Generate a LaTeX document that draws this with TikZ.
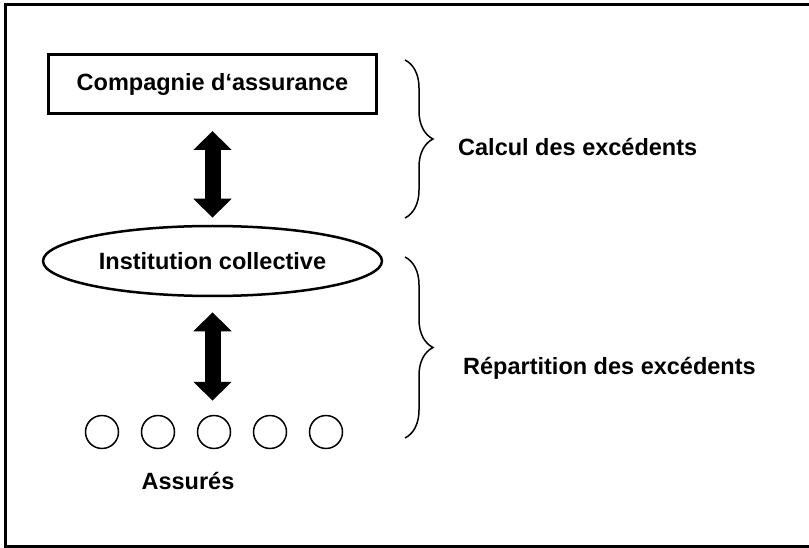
\documentclass[tikz,border=0pt]{standalone}
\usepackage{fontspec}
\setmainfont{Liberation Sans}
\usetikzlibrary{arrows.meta, positioning, shapes.geometric, decorations.pathreplacing}

\begin{document}
\begin{tikzpicture}[x=1pt, y=-1pt,
         every node/.style={font=\bfseries\fontsize{23.5}{28}\selectfont},
         box/.style={rectangle, draw, line width=3pt, minimum width=328pt, minimum height=59pt},
         oval/.style={ellipse, draw, line width=2.5pt, minimum width=339pt, minimum height=70pt},
         member/.style={circle, draw, line width=1.5pt, minimum size=33pt, inner sep=0pt},
         biarrow/.style={line width=16pt, {Triangle[length=19pt, width=37pt]}-{Triangle[length=19pt, width=37pt]}},
         accolade/.style={decorate, decoration={brace, amplitude=28pt}, line width=1.5pt},
         tag/.style={inner sep=0pt, anchor=base west}]

         \useasboundingbox (0,0) rectangle (809,548);
         \draw[line width=3pt] (809,4.5) -- (5,4.5) -- (5,546) -- (809,546);

         \node [box]  (compagnie)   at (212.5,84)   {Compagnie d‘assurance};
         \node [oval, text depth=0pt] (institution) at (212.5,261)  {Institution collective};
         \foreach \i in {1,...,5}
             \node [member] (assure\i) at (46+56*\i,432) {};
         \node [inner sep=0pt, anchor=base] (assures) at (188,489) {Assurés};

         \draw [biarrow, shorten <=16pt, shorten >=7pt] (compagnie) -- (institution);
         \draw [biarrow, shorten <=15pt, shorten >=14pt] (institution.south) -- (institution.south |- assure3.north);

         \coordinate (calcTop) at (405,60);
         \coordinate (calcBot) at (405,218);
         \coordinate (calcTip) at (433,147);
         \coordinate (repTop)  at (405,257);
         \coordinate (repBot)  at (405,438);
         \coordinate (repTip)  at (433,368);

         \draw [accolade] (calcTop) -- (calcBot);
         \draw [accolade] (repTop) -- (repBot);

         \node [tag, right=25pt of calcTip] (calcul)      {Calcul des excédents};
         \node [tag, right=30pt of repTip]  (repartition) {Répartition des excédents};

\end{tikzpicture}
\end{document}
